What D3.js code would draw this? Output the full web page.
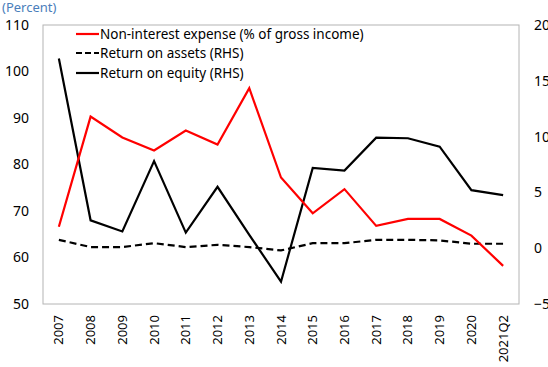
<!DOCTYPE html>
<html>
<head>
<meta charset="utf-8">
<script src="https://cdn.jsdelivr.net/npm/d3@7"></script>
<style>
  html, body { margin: 0; padding: 0; background: #fff; }
  svg { display: block; font-family: "Noto Sans", "Open Sans", sans-serif; }
</style>
</head>
<body>
<svg id="chart" width="548" height="367"></svg>
<script>
// Categories (years)
const years = ["2007","2008","2009","2010","2011","2012","2013","2014","2015","2016","2017","2018","2019","2020","2021Q2"];
// Non-interest expense, % of gross income (left axis)
const nonInterestExpense = [66.6, 90.3, 85.8, 83.0, 87.3, 84.3, 96.4, 77.2, 69.5, 74.7, 66.8, 68.3, 68.3, 64.7, 58.2];
// Return on assets, percent (right axis)
const returnOnAssets = [0.75, 0.1, 0.1, 0.45, 0.1, 0.3, 0.1, -0.2, 0.45, 0.45, 0.75, 0.75, 0.7, 0.4, 0.4];
// Return on equity, percent (right axis)
const returnOnEquity = [17.0, 2.5, 1.5, 7.8, 1.4, 5.5, 1.2, -3.0, 7.2, 6.95, 9.9, 9.85, 9.1, 5.2, 4.75];
// Axis ticks
const leftTicks = [50, 60, 70, 80, 90, 100, 110];
const rightTicks = [-5, 0, 5, 10, 15, 20];

const svg = d3.select("#chart");
const plot = { left: 43, right: 519, top: 25, bottom: 304 };

const x = d3.scaleBand().domain(years).range([plot.left, plot.right]).padding(0);
const yL = d3.scaleLinear().domain([50, 110]).range([plot.bottom, plot.top]);
const yR = d3.scaleLinear().domain([-5, 20]).range([plot.bottom, plot.top]);
const cx = d => x(d) + x.bandwidth() / 2;

// Plot frame
svg.append("rect")
  .attr("x", plot.left).attr("y", plot.top)
  .attr("width", plot.right - plot.left).attr("height", plot.bottom - plot.top)
  .attr("fill", "none").attr("stroke", "#b4b4b4").attr("stroke-width", 1);

// Left axis
const leftAxis = svg.append("g")
  .attr("transform", `translate(${plot.left},0)`)
  .call(d3.axisLeft(yL).tickValues(leftTicks).tickSize(0).tickPadding(14));
leftAxis.select(".domain").remove();
leftAxis.selectAll("text").attr("font-size", 14).attr("fill", "#000").attr("font-family", "Noto Sans");

// Right axis (labels run past the right edge of the page)
const rightAxis = svg.append("g")
  .attr("transform", `translate(${plot.right},0)`)
  .call(d3.axisRight(yR).tickValues(rightTicks).tickSize(0).tickPadding(15));
rightAxis.select(".domain").remove();
rightAxis.selectAll("text").attr("font-size", 14).attr("fill", "#000").attr("font-family", "Noto Sans");

// Bottom axis with rotated year labels
const bottomAxis = svg.append("g")
  .attr("transform", `translate(0,${plot.bottom})`)
  .call(d3.axisBottom(x).tickSize(0));
bottomAxis.select(".domain").remove();
bottomAxis.selectAll("text")
  .attr("font-size", 13).attr("fill", "#000").attr("font-family", "Noto Sans")
  .attr("transform", "rotate(-90)")
  .attr("text-anchor", "end")
  .attr("dy", "0.35em")
  .attr("x", -11).attr("y", 0);

// Unit label
svg.append("text")
  .attr("x", 2).attr("y", 12)
  .attr("font-size", 13).attr("fill", "#4a7ebb")
  .text("(Percent)");

// Series lines
const lineL = d3.line().x((d, i) => cx(years[i])).y(d => yL(d));
const lineR = d3.line().x((d, i) => cx(years[i])).y(d => yR(d));

svg.append("path").datum(returnOnAssets)
  .attr("d", lineR).attr("fill", "none")
  .attr("stroke", "#000").attr("stroke-width", 2.2)
  .attr("stroke-dasharray", "7,4");

svg.append("path").datum(returnOnEquity)
  .attr("d", lineR).attr("fill", "none")
  .attr("stroke", "#000").attr("stroke-width", 2.2);

svg.append("path").datum(nonInterestExpense)
  .attr("d", lineL).attr("fill", "none")
  .attr("stroke", "#ff0000").attr("stroke-width", 2.2);

// Legend
const legendItems = [
  { label: "Non-interest expense (% of gross income)", color: "#ff0000", dash: null, y: 34 },
  { label: "Return on assets (RHS)", color: "#000", dash: "6,3", y: 53 },
  { label: "Return on equity (RHS)", color: "#000", dash: null, y: 73 }
];
const legend = svg.append("g");
legendItems.forEach(item => {
  legend.append("line")
    .attr("x1", 76).attr("x2", 99).attr("y1", item.y).attr("y2", item.y)
    .attr("stroke", item.color).attr("stroke-width", 2.2)
    .attr("stroke-dasharray", item.dash);
  legend.append("text")
    .attr("x", 100).attr("y", item.y).attr("dy", "0.35em")
    .attr("font-size", 13.5).attr("fill", "#000")
    .text(item.label);
});
</script>
</body>
</html>
